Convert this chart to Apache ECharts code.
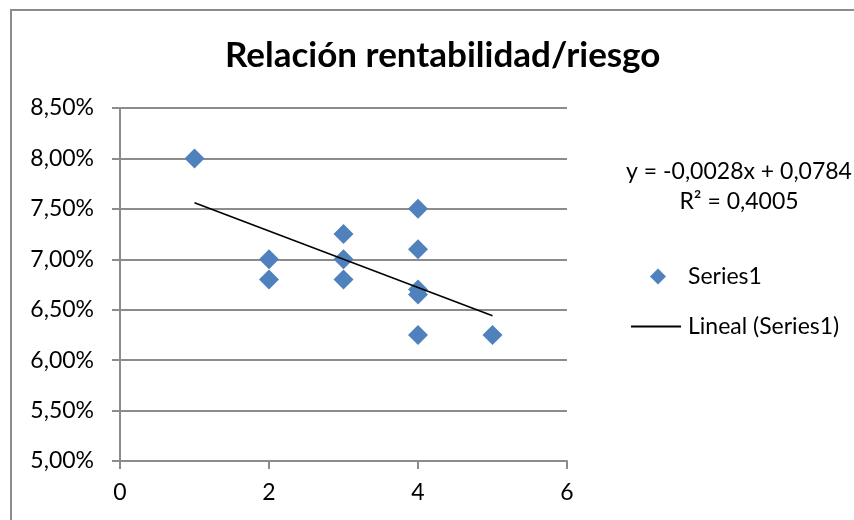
<!DOCTYPE html>
<html>
<head>
<meta charset="utf-8">
<script src="https://cdn.jsdelivr.net/npm/echarts@6/dist/echarts.min.js"></script>
<style>
  html, body { margin: 0; padding: 0; background: #fff; }
  #main { width: 854px; height: 520px; }
</style>
</head>
<body>
<div id="main"></div>
<script>
(function() {
  // riesgo (x) and rentabilidad in % (y)
  const riesgo = [1, 2, 2, 3, 3, 3, 4, 4, 4, 4, 4, 5];
  const rentabilidad = [8.00, 7.00, 6.80, 7.25, 7.00, 6.80, 7.50, 7.10, 6.70, 6.65, 6.25, 6.25];

  // linear trend as printed on the chart (in % units)
  const trendSlope = -0.28;
  const trendIntercept = 7.84;
  const equationLines = ['y = -0,0028x + 0,0784', 'R² = 0,4005'];

  const font = 'Lato, "Noto Sans", sans-serif';
  const gridColor = '#8c8c8c';

  const points = riesgo.map(function (x, i) { return [x, rentabilidad[i]]; });
  const xMin = Math.min.apply(null, riesgo);
  const xMax = Math.max.apply(null, riesgo);
  const trend = [xMin, xMax].map(function (x) { return [x, trendIntercept + trendSlope * x]; });

  const myChart = echarts.init(document.getElementById('main'));

  const option = {
    animation: false,
    backgroundColor: '#fff',
    title: {
      text: 'Relación rentabilidad/riesgo',
      left: 220,
      top: 33,
      textStyle: { fontFamily: font, fontSize: 35, fontWeight: 'bold', color: '#000' }
    },
    grid: { left: 120, right: 287, top: 108, bottom: 59 },
    legend: [{
      data: [{ name: 'Series1', icon: 'diamond' }],
      left: 645, top: 260,
      itemWidth: 16, itemHeight: 16,
      textStyle: { fontFamily: font, fontSize: 23, color: '#000', padding: [0, 0, 0, 17] }
    }, {
      data: [{ name: 'Lineal (Series1)', icon: 'rect', itemStyle: { color: '#000' } }],
      left: 626, top: 310,
      itemWidth: 50, itemHeight: 2,
      textStyle: { fontFamily: font, fontSize: 23, color: '#000', padding: [0, 0, 0, 2] }
    }],
    xAxis: {
      type: 'value',
      min: 0, max: 6, interval: 2,
      axisLine: { lineStyle: { color: gridColor, width: 2 } },
      axisTick: { length: 8, lineStyle: { color: gridColor, width: 2 } },
      axisLabel: { margin: 20, fontFamily: font, fontSize: 23, color: '#000' },
      splitLine: { show: false }
    },
    yAxis: {
      type: 'value',
      min: 5, max: 8.5, interval: 0.5,
      axisLine: { show: true, lineStyle: { color: gridColor, width: 2 } },
      axisTick: { show: true, length: 8, lineStyle: { color: gridColor, width: 2 } },
      axisLabel: {
        margin: 26, fontFamily: font, fontSize: 23, color: '#000',
        formatter: function (v) { return v.toFixed(2).replace('.', ',') + '%'; }
      },
      splitLine: { show: true, lineStyle: { color: gridColor, width: 2 } }
    },
    graphic: [{
      type: 'rect',
      silent: true,
      shape: { x: 11, y: 10, width: 900, height: 600 },
      style: { fill: 'none', stroke: '#8c8c8c', lineWidth: 2 }
    }].concat(equationLines.map(function (line, i) {
      return {
        type: 'text',
        silent: true,
        x: 739, y: 172 + i * 30,
        style: {
          text: line,
          align: 'center',
          verticalAlign: 'middle',
          font: '23px ' + font,
          fill: '#000'
        }
      };
    })),
    series: [{
      name: 'Series1',
      type: 'scatter',
      symbol: 'diamond',
      symbolSize: 20,
      itemStyle: { color: '#4f81bd', opacity: 1 },
      data: points,
      z: 3
    }, {
      name: 'Lineal (Series1)',
      type: 'line',
      data: trend,
      symbol: 'none',
      lineStyle: { color: '#000', width: 1.5 },
      itemStyle: { color: '#000' },
      z: 4
    }]
  };

  myChart.setOption(option);
})();
</script>
</body>
</html>
